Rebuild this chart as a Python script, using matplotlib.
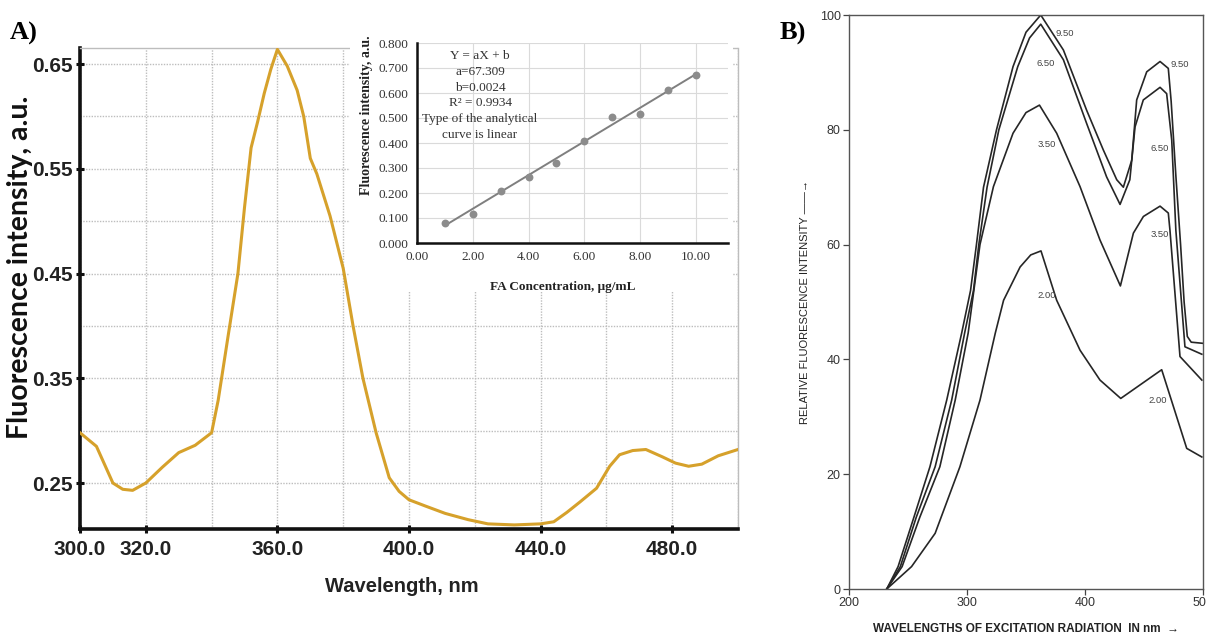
import matplotlib.pyplot as plt
from matplotlib.ticker import FixedLocator, MultipleLocator

#==============#
# Chart values #
#==============#

# A) emission spectrum of folic acid
wavelength_a = [300, 305, 310, 313, 316, 320, 325, 330, 335, 340, 342, 345, 348,
                350, 352, 354, 356, 358, 360, 363, 366, 368, 370, 372, 376, 380,
                383, 386, 390, 394, 397, 400, 405, 411, 418, 424, 432, 440, 444,
                448, 452, 457, 461, 464, 468, 472, 477, 481, 485, 489, 494, 500]
intensity_a = [0.298, 0.285, 0.250, 0.244, 0.243, 0.250, 0.265, 0.279, 0.286, 0.298,
               0.329, 0.390, 0.450, 0.513, 0.570, 0.595, 0.622, 0.645, 0.664, 0.648,
               0.625, 0.600, 0.560, 0.545, 0.505, 0.455, 0.400, 0.350, 0.298, 0.255,
               0.242, 0.234, 0.228, 0.221, 0.215, 0.211, 0.210, 0.211, 0.213, 0.222,
               0.232, 0.245, 0.266, 0.277, 0.281, 0.282, 0.275, 0.269, 0.266, 0.268,
               0.276, 0.282]

# inset: calibration curve
fa_conc = [1, 2, 3, 4, 5, 6, 7, 8, 9, 10]
fa_signal = [0.080, 0.117, 0.208, 0.264, 0.320, 0.408, 0.504, 0.515, 0.611, 0.673]
slope_a = 67.309        # per mg/mL
intercept_b = 0.0024
r_squared = 0.9934

# B) excitation spectra, one curve per pH
wl_950 = [232, 241.6, 255, 268.6, 282.8, 295.5, 303, 308, 314, 325, 339, 350, 362.5,
          381.7, 401.4, 415.5, 426.9, 432.5, 439.6, 443.8, 452.3, 463.6, 470.6, 473,
          477, 481, 484, 486.7, 490, 500]
ri_950 = [0, 3.9, 12.5, 21.3, 32.9, 44.6, 52, 60, 70, 80, 91, 97, 100,
          93.9, 83.4, 76.5, 71.3, 70, 74.7, 85.2, 90.1, 91.9, 90.7, 85,
          72, 60, 50, 44, 43, 42.8]

wl_650 = [232, 243.5, 257, 273, 287, 298, 305.5, 310, 317, 327, 343, 353, 362.5,
          381.7, 401.4, 418.3, 429.7, 438, 442.4, 449.4, 463.6, 469.2, 473.5, 477,
          484.7, 499]
ri_650 = [0, 3.9, 12.5, 21.3, 32.9, 44.6, 52, 60, 70, 80, 91, 96, 98.4,
          92.2, 81.1, 71.8, 67, 71.3, 80.5, 85.2, 87.4, 86.3, 78.2, 62.5,
          42.2, 40.9]

wl_350 = [232, 245, 260, 277, 290, 301, 311, 322.4, 339, 350, 361.4, 376, 395.8,
          412.7, 430, 441, 449.5, 463.6, 470.6, 472, 480.5, 499]
ri_350 = [0, 3.9, 12.5, 21.3, 32.9, 44.6, 60, 70.1, 79.4, 83, 84.3, 79.4, 70.1,
          60.8, 52.8, 62, 64.9, 66.7, 65.5, 62.5, 40.5, 36.4]

wl_200 = [232, 253, 273, 294, 311, 324, 331, 345, 354, 362.7, 376, 395.8, 412.7,
          430.3, 465, 486.2, 499]
ri_200 = [0, 3.9, 9.7, 21.3, 32.9, 44.6, 50.3, 56.1, 58.2, 58.9, 50.3, 41.6, 36.4,
          33.2, 38.2, 24.5, 23]

ph_labels = ["9.50", "6.50", "3.50", "2.00"]
# where each pH value is written, near the first and the second maximum
label_pos_1 = [(383, 96.8), (367, 91.5), (367.6, 77.4), (367.6, 51.2)]
label_pos_2 = [(480.5, 91.3), (463, 76.8), (463, 61.7), (462, 32.8)]

#=====================#
# Styles              #
#=====================#

SPEC_COLOR = "#D6A12B"
GRID_COLOR = "#bdbdbd"
SANS = ["Liberation Sans", "DejaVu Sans"]
SERIF = ["Liberation Serif", "DejaVu Serif"]

fig = plt.figure(figsize=(12.06, 6.35), dpi=100)

#==================#
# A) main spectrum #
#==================#

ax = fig.add_axes([80 / 1206, 1 - 529 / 635, 658 / 1206, 481 / 635])
ax.plot(wavelength_a, intensity_a, color=SPEC_COLOR, lw=2.2, solid_joinstyle="round",
        zorder=3)
ax.set_xlim(300, 500)
ax.set_ylim(0.2061, 0.6653)

ax.xaxis.set_major_locator(FixedLocator([300, 320, 360, 400, 440, 480]))
ax.xaxis.set_minor_locator(FixedLocator([340, 380, 420, 460, 500]))
ax.set_xticklabels(["300.0", "320.0", "360.0", "400.0", "440.0", "480.0"])
ax.yaxis.set_major_locator(FixedLocator([0.25, 0.35, 0.45, 0.55, 0.65]))
ax.yaxis.set_minor_locator(FixedLocator([0.30, 0.40, 0.50, 0.60]))
ax.set_yticklabels(["0.25", "0.35", "0.45", "0.55", "0.65"])

ax.grid(which="both", color=GRID_COLOR, lw=1.0, ls=(0, (1, 1)))
ax.tick_params(axis="both", which="major", direction="inout", length=6, width=2.2,
               color="#111111")
ax.tick_params(axis="both", which="minor", length=0)
ax.tick_params(axis="x", pad=5)
ax.tick_params(axis="y", pad=2)
for lab in ax.get_xticklabels() + ax.get_yticklabels():
    lab.set_family(SANS)
    lab.set_weight("bold")
    lab.set_color("#222222")
    lab.set_fontsize(15)

for side in ["left", "bottom"]:
    ax.spines[side].set_linewidth(2.6)
    ax.spines[side].set_color("#111111")
for side in ["top", "right"]:
    ax.spines[side].set_color(GRID_COLOR)
    ax.spines[side].set_linewidth(1.0)
    ax.spines[side].set_linestyle((0, (1, 1)))

ax.set_xlabel("Wavelength, nm", family=SANS, weight="bold", fontsize=14.5,
              color="#222222")
ax.xaxis.set_label_coords(0.489, -0.1)
ax.set_ylabel("Fluorescence intensity, a.u.", family=["Lato", "DejaVu Sans"],
              weight="bold", fontsize=20.5, color="#111111")
ax.yaxis.set_label_coords(-0.072, 0.545)

fig.text(10 / 1206, 1 - 40 / 635, "A)", family=SERIF, weight="bold", fontsize=19)

#=======================#
# Inset: calibration    #
#=======================#

bg = fig.add_axes([350 / 1206, 1 - 292 / 635, 383 / 1206, 262 / 635])
bg.set_facecolor("white")
bg.set_xticks([])
bg.set_yticks([])
for s in bg.spines.values():
    s.set_visible(False)
bg.set_zorder(2)

ins = fig.add_axes([417 / 1206, 1 - 243 / 635, 311 / 1206, 200 / 635])
ins.set_zorder(3)
ins.set_facecolor("none")
fit_x = [fa_conc[0], fa_conc[-1]]
fit_y = [slope_a / 1000 * x + intercept_b for x in fit_x]
ins.plot(fit_x, fit_y, color="#7f7f7f", lw=1.4, zorder=3)
ins.scatter(fa_conc, fa_signal, s=32, color="#8c8c8c", zorder=4, linewidths=0)
ins.set_xlim(0, 11.15)
ins.set_ylim(0, 0.8)
ins.xaxis.set_major_locator(MultipleLocator(2))
ins.yaxis.set_major_locator(MultipleLocator(0.1))
ins.set_xticklabels([f"{v:.2f}" for v in ins.get_xticks()])
ins.set_yticklabels([f"{v:.3f}" for v in ins.get_yticks()])
ins.grid(color="#dadada", lw=0.8)
ins.set_axisbelow(True)
ins.tick_params(length=0, labelsize=9.5, labelcolor="#333333", pad=6)
for lab in ins.get_xticklabels() + ins.get_yticklabels():
    lab.set_family(SERIF)
for side in ["top", "right"]:
    ins.spines[side].set_visible(False)
for side in ["left", "bottom"]:
    ins.spines[side].set_linewidth(1.8)
    ins.spines[side].set_color("#111111")
ins.set_xlabel("FA Concentration, \u03bcg/mL", family=SERIF, weight="bold",
               fontsize=9.5, color="#222222")
ins.xaxis.set_label_coords(0.47, -0.19)
ins.set_ylabel("Fluorescence intensity, a.u.", family=SERIF, weight="bold",
               fontsize=10, color="#222222")
ins.yaxis.set_label_coords(-0.142, 0.64)

fit_text = (f"Y = aX + b\na={slope_a}\nb={intercept_b}\nR\u00b2 = {r_squared}\n"
            "Type of the analytical\ncurve is linear")
ins.text(2.26, 0.772, fit_text, ha="center", va="top", family=SERIF, fontsize=9.5,
         color="#333333", linespacing=1.42)

#==========================#
# B) excitation spectra    #
#==========================#

bx = fig.add_axes([849 / 1206, 1 - 589 / 635, 354 / 1206, 574 / 635])
curves = [(wl_950, ri_950), (wl_650, ri_650), (wl_350, ri_350), (wl_200, ri_200)]
for (wl, ri), lab, p1, p2 in zip(curves, ph_labels, label_pos_1, label_pos_2):
    bx.plot(wl, ri, color="#262626", lw=1.2)
    bx.text(p1[0], p1[1], lab, family=SANS, fontsize=6.8, color="#444444",
            ha="center", va="center")
    bx.text(p2[0], p2[1], lab, family=SANS, fontsize=6.8, color="#444444",
            ha="center", va="center")

bx.set_xlim(200, 500)
bx.set_ylim(0, 100)
bx.set_xticks([200, 300, 400, 500])
bx.set_yticks([0, 20, 40, 60, 80, 100])
bx.tick_params(direction="out", length=4, width=0.9, color="#444444",
               labelsize=9, labelcolor="#333333", pad=2)
for lab in bx.get_xticklabels() + bx.get_yticklabels():
    lab.set_family(SANS)
for s in bx.spines.values():
    s.set_color("#555555")
    s.set_linewidth(1.0)
bx.set_xlabel("WAVELENGTHS OF EXCITATION RADIATION  IN nm  \u2192", family=SANS,
              weight="bold", fontsize=8.5, color="#222222", labelpad=10)
bx.set_ylabel("RELATIVE FLUORESCENCE INTENSITY \u2014\u2014\u2192", family=SANS,
              fontsize=8, color="#222222", labelpad=7)

fig.text(780 / 1206, 1 - 40 / 635, "B)", family=SERIF, weight="bold", fontsize=19)

fig.savefig("out.png", dpi=100)
